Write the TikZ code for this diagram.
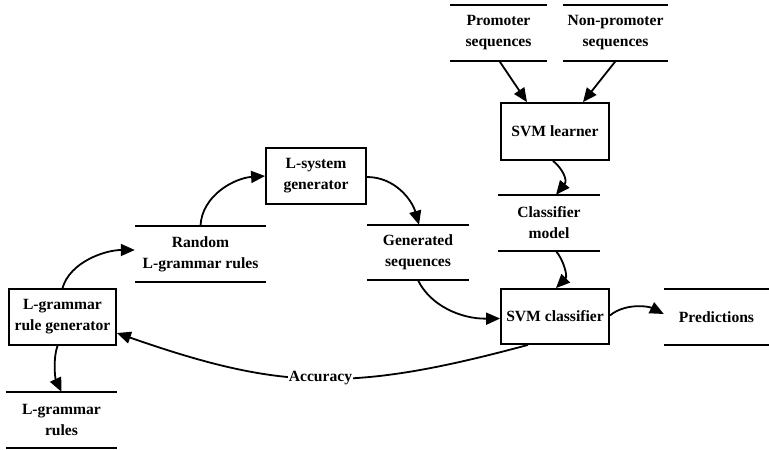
\documentclass[tikz,border=0pt]{standalone}
\usepackage{fontspec}
\setmainfont{Liberation Serif}
\usetikzlibrary{arrows.meta}
\begin{document}
\begin{tikzpicture}[x=1pt,y=-1pt,
  every node/.style={font=\fontsize{15.6}{21}\selectfont\bfseries, align=center, inner sep=0pt},
  procbox/.style={draw, line width=1.8pt, minimum height=56pt},
  store/.style={minimum height=56pt},
  storeline/.style={line width=1.8pt},
  flow/.style={line width=1.8pt, -{Triangle[length=14pt,width=12pt]}}]
\useasboundingbox (0,0) rectangle (769,450);

% processes
\node[procbox, minimum width=108pt, minimum height=57pt] (learner) at (555,131.5) {SVM learner};
\node[procbox, minimum width=108pt, minimum height=55pt] (classifier) at (555,316.5) {SVM classifier};
\node[procbox, minimum width=100pt] (lsys) at (316,176) {L-system\\generator};
\node[procbox, minimum width=107pt] (rulegen) at (62.5,317) {L-grammar\\rule generator};

% data stores
\node[store, minimum width=96pt] (prom) at (498.5,33) {Promoter\\sequences};
\node[store, minimum width=105pt] (nonprom) at (615.5,33) {Non-promoter\\sequences};
\node[store, minimum width=102pt] (model) at (549,223) {Classifier\\model};
\node[store, minimum width=105pt] (pred) at (716.5,317) {Predictions};
\node[store, minimum width=131pt] (random) at (200.5,254) {Random\\L-grammar rules};
\node[store, minimum width=102pt, minimum height=55pt] (gen) at (418,252.5) {Generated\\sequences};
\node[store, minimum width=111pt] (rules) at (61.5,420) {L-grammar\\rules};

\foreach \n in {prom,nonprom,model,pred,random,gen,rules}
  \draw[storeline] (\n.north west) -- (\n.north east) (\n.south west) -- (\n.south east);

% flows
\draw[flow] ([shift={(1,0)}]prom.south) -- ([shift={(-28,0)}]learner.north);
\draw[flow] (nonprom.south) -- ([shift={(28,0)}]learner.north);
\draw[flow] ([shift={(-2,0)}]learner.south) .. controls (562,168) and (568,180) .. ([shift={(7,0)}]model.north);
\draw[flow] ([shift={(7,0)}]model.south) .. controls (563,259) and (568,276) .. ([shift={(1,0)}]classifier.north);
\draw[flow] ([shift={(0,-1)}]classifier.east) .. controls (625,303) and (648,306) .. ([shift={(0,-3)}]pred.west);
\draw[flow] ([shift={(0,1)}]lsys.east) .. controls (395,177) and (412,200) .. ([shift={(1,0)}]gen.north);
\draw[flow] (random.north) .. controls (202,195) and (235,178) .. (lsys.west);
\draw[flow] (gen.south) .. controls (430,305) and (460,319) .. ([shift={(0,2)}]classifier.west);
\draw[flow] (rulegen.north) .. controls (70,262) and (105,250) .. ([shift={(0,-4)}]random.west);
\draw[flow] ([shift={(-5,0)}]rulegen.south) .. controls (53,358) and (55,378) .. (rules.north);
\draw[flow] ([shift={(-27,0)}]classifier.south) .. controls (350,393) and (280,390) ..
  node[pos=0.49, fill=white, inner sep=1pt] (acc) {Accuracy} ([shift={(0,16)}]rulegen.east);
\end{tikzpicture}
\end{document}
